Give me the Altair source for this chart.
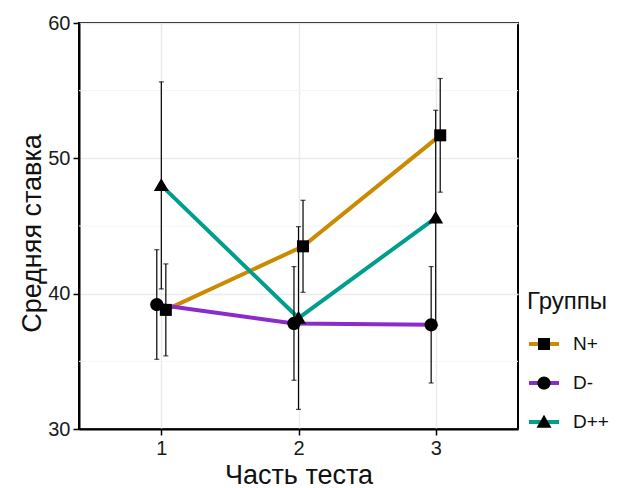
import altair as alt
import pandas as pd

parts = [1, 2, 3]
groups = ["N+", "D-", "D++"]
means = {
    "N+": [38.8, 43.5, 51.7],
    "D-": [39.2, 37.8, 37.7],
    "D++": [48.0, 38.2, 45.6],
}
errs = {
    "N+": [3.4, 3.4, 4.2],
    "D-": [4.05, 4.2, 4.3],
    "D++": [7.65, 6.75, 7.95],
}
colors = ["#CC8A00", "#8A2BCC", "#009E8C"]
# marker outlines in symbol units (1 unit = sqrt(size)/2 px)
shapes = [
    "M-0.4,-0.4H0.4V0.4H-0.4Z",
    "M-0.44,0A0.44,0.44,0,1,0,0.44,0A0.44,0.44,0,1,0,-0.44,0Z",
    "M0,-0.48L0.5,0.38L-0.5,0.38Z",
]
y_ticks = [30, 40, 50, 60]
y_minor = [35, 45, 55]

rows = []
for g in groups:
    for p, m, e in zip(parts, means[g], errs[g]):
        rows.append({"part": p, "group": g, "grp": g, "mean": m, "lo": m - e, "hi": m + e})
df = pd.DataFrame(rows)
minor_df = pd.DataFrame({"v": y_minor})

xscale = alt.Scale(domain=[0.4, 3.6], nice=False, zero=False)
yscale = alt.Scale(domain=[30, 60], nice=False, zero=False)

base = alt.Chart(df).transform_calculate(
    xpos="datum.part + (datum.group === 'D-' ? -0.033 : (datum.group === 'N+' ? 0.033 : 0))"
)

x_enc = alt.X("xpos:Q", scale=xscale, title="Часть теста",
              axis=alt.Axis(values=parts, format="d", titlePadding=4))
y_enc = alt.Y("mean:Q", scale=yscale, title="Средняя ставка",
              axis=alt.Axis(values=y_ticks, titleY=210, titlePadding=1))

common_legend = dict(title="Группы", orient="none", legendX=448, legendY=267,
                     symbolSize=900, symbolStrokeWidth=4, clipHeight=30,
                     rowPadding=9.0, labelFontSize=19, titleFontSize=24,
                     titleFontWeight="normal", titlePadding=15,
                     labelOffset=12, labelColor="#111", titleColor="#111",
                     labelFont="Liberation Sans", titleFont="Liberation Sans")

minor = alt.Chart(minor_df).mark_rule(color="#F4F4F4", strokeWidth=1).encode(
    y=alt.Y("v:Q", scale=yscale)
)

lines = base.mark_line(strokeWidth=4).encode(
    x=x_enc,
    y=y_enc,
    color=alt.Color("group:N", scale=alt.Scale(domain=groups, range=colors),
                    legend=alt.Legend(symbolType="stroke", **common_legend)),
    detail="group:N",
    order="part:Q",
)

bars = base.mark_errorbar(ticks=True, size=5, thickness=1.2, color="black", orient="vertical").encode(
    x=alt.X("xpos:Q", scale=xscale),
    y=alt.Y("lo:Q", scale=yscale, title="Средняя ставка"),
    y2="hi:Q",
)

points = base.mark_point(filled=True, opacity=1, size=900, strokeWidth=0).encode(
    x=alt.X("xpos:Q", scale=xscale),
    y=alt.Y("mean:Q", scale=yscale),
    color=alt.value("black"),
    shape=alt.Shape("grp:N", scale=alt.Scale(domain=groups, range=shapes),
                    legend=alt.Legend(symbolFillColor="black", symbolStrokeColor="rgba(0,0,0,0)",
                                      labelOpacity=0, titleOpacity=0, **common_legend)),
)

chart = alt.layer(minor, lines, bars, points).resolve_legend(color="independent", shape="independent").properties(
    width=439, height=406,
    autosize=alt.AutoSizeParams(type="none"),
    padding={"left": 71, "top": 15, "right": 101, "bottom": 60},
).configure_view(
    stroke="black", strokeWidth=2
).configure_axis(
    grid=True, gridColor="#EBEBEB", gridWidth=1.5,
    domainColor="black", domainWidth=2,
    tickColor="black", tickSize=6, tickWidth=1.5,
    labelFontSize=20, labelColor="#1a1a1a", labelPadding=3, labelFont="Liberation Sans",
    titleFontSize=27, titleFontWeight="normal", titleColor="#111", titleFont="Liberation Sans",
)

chart.save("out.html", embed_options={"renderer": "svg", "actions": False})
